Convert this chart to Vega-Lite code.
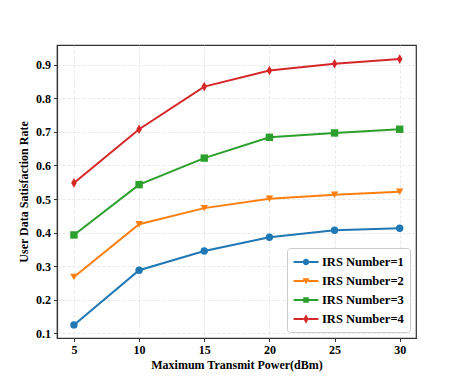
{
  "$schema": "https://vega.github.io/schema/vega-lite/v6.json",
  "width": 359,
  "height": 293,
  "autosize": "none",
  "padding": {"left": 57, "top": 45, "right": 47, "bottom": 42},
  "background": "white",
  "config": {
    "font": "Liberation Serif",
    "view": {"stroke": "#333", "strokeWidth": 1.2},
    "axis": {
      "labelFont": "Liberation Serif", "labelFontSize": 12, "labelFontWeight": "bold", "labelColor": "black",
      "titleFont": "Liberation Serif", "titleFontSize": 12, "titleFontWeight": "bold", "titleColor": "black",
      "domainColor": "#333", "domainWidth": 1.2, "tickColor": "#333", "tickSize": 3.5, "tickWidth": 1,
      "gridColor": "#e0e0e0", "gridDash": [3, 2], "gridWidth": 0.7, "labelPadding": 3
    },
    "legend": {
      "labelFont": "Liberation Serif", "labelFontSize": 12.5, "labelFontWeight": "bold", "labelColor": "black"
    }
  },
  "data": {
    "values": [
      {"p": 5, "v": 0.125, "s": "IRS Number=1"},
      {"p": 10, "v": 0.288, "s": "IRS Number=1"},
      {"p": 15, "v": 0.345, "s": "IRS Number=1"},
      {"p": 20, "v": 0.386, "s": "IRS Number=1"},
      {"p": 25, "v": 0.407, "s": "IRS Number=1"},
      {"p": 30, "v": 0.413, "s": "IRS Number=1"},
      {"p": 5, "v": 0.268, "s": "IRS Number=2"},
      {"p": 10, "v": 0.425, "s": "IRS Number=2"},
      {"p": 15, "v": 0.473, "s": "IRS Number=2"},
      {"p": 20, "v": 0.501, "s": "IRS Number=2"},
      {"p": 25, "v": 0.513, "s": "IRS Number=2"},
      {"p": 30, "v": 0.522, "s": "IRS Number=2"},
      {"p": 5, "v": 0.393, "s": "IRS Number=3"},
      {"p": 10, "v": 0.543, "s": "IRS Number=3"},
      {"p": 15, "v": 0.622, "s": "IRS Number=3"},
      {"p": 20, "v": 0.684, "s": "IRS Number=3"},
      {"p": 25, "v": 0.697, "s": "IRS Number=3"},
      {"p": 30, "v": 0.708, "s": "IRS Number=3"},
      {"p": 5, "v": 0.548, "s": "IRS Number=4"},
      {"p": 10, "v": 0.708, "s": "IRS Number=4"},
      {"p": 15, "v": 0.835, "s": "IRS Number=4"},
      {"p": 20, "v": 0.883, "s": "IRS Number=4"},
      {"p": 25, "v": 0.903, "s": "IRS Number=4"},
      {"p": 30, "v": 0.917, "s": "IRS Number=4"}
    ]
  },
  "encoding": {
    "x": {
      "field": "p", "type": "quantitative",
      "scale": {"domain": [3.7, 31.25], "nice": false, "zero": false},
      "axis": {"values": [5, 10, 15, 20, 25, 30], "title": "Maximum Transmit Power(dBm)", "titlePadding": 4}
    },
    "y": {
      "field": "v", "type": "quantitative",
      "scale": {"domain": [0.086, 0.959], "nice": false, "zero": false},
      "axis": {"values": [0.1, 0.2, 0.3, 0.4, 0.5, 0.6, 0.7, 0.8, 0.9], "format": ".1f", "title": "User Data Satisfaction Rate", "titlePadding": 5}
    }
  },
  "layer": [
    {
      "mark": {"type": "line", "strokeWidth": 2},
      "encoding": {
        "color": {
          "field": "s", "type": "nominal",
          "scale": {"domain": ["IRS Number=1", "IRS Number=2", "IRS Number=3", "IRS Number=4"], "range": ["#1f77b4", "#ff7f0e", "#2ca02c", "#d62728"]},
          "legend": null
        }
      }
    },
    {
      "mark": {"type": "point", "filled": true, "opacity": 1, "size": 55},
      "encoding": {
        "color": {
          "field": "s", "type": "nominal",
          "scale": {"domain": ["IRS Number=1", "IRS Number=2", "IRS Number=3", "IRS Number=4"], "range": ["#1f77b4", "#ff7f0e", "#2ca02c", "#d62728"]},
          "legend": null
        },
        "shape": {
          "field": "s", "type": "nominal",
          "scale": {"domain": ["IRS Number=1", "IRS Number=2", "IRS Number=3", "IRS Number=4"], "range": ["circle", "triangle-down", "square", "M0,-1.3L0.75,0L0,1.3L-0.75,0Z"]},
          "legend": null
        }
      }
    },
    {
      "mark": {"type": "point", "filled": true, "opacity": 0, "size": 1},
      "encoding": {
        "color": {
          "field": "s", "type": "nominal",
          "scale": {"domain": ["IRS Number=1", "IRS Number=2", "IRS Number=3", "IRS Number=4"], "range": ["#1f77b4", "#ff7f0e", "#2ca02c", "#d62728"]},
          "legend": {
            "title": null, "orient": "bottom-right", "offset": 6,
            "fillColor": "white", "strokeColor": "#cccccc", "cornerRadius": 3, "padding": 6,
            "symbolSize": 256, "symbolOpacity": 1, "symbolStrokeWidth": 0,
            "symbolOffset": 5, "labelOffset": 8, "rowPadding": 4
          }
        },
        "shape": {
          "field": "s", "type": "nominal",
          "scale": {"domain": ["IRS Number=1", "IRS Number=2", "IRS Number=3", "IRS Number=4"], "range": [
            "M-1.55,-0.12H-0.38V0.12H-1.55Z M0.38,-0.12H1.55V0.12H0.38Z M-0.4,0A0.4,0.4 0 1,0 0.4,0A0.4,0.4 0 1,0 -0.4,0Z",
            "M-1.55,-0.12H-0.25V0.12H-1.55Z M0.25,-0.12H1.55V0.12H0.25Z M-0.44,-0.34L0.44,-0.34L0,0.42Z",
            "M-1.55,-0.12H-0.35V0.12H-1.55Z M0.35,-0.12H1.55V0.12H0.35Z M-0.35,-0.35H0.35V0.35H-0.35Z",
            "M-1.55,-0.12H-0.3V0.12H-1.55Z M0.3,-0.12H1.55V0.12H0.3Z M0,-0.58L0.32,0L0,0.58L-0.32,0Z"
          ]},
          "legend": {
            "title": null, "orient": "bottom-right", "offset": 6,
            "fillColor": "white", "strokeColor": "#cccccc", "cornerRadius": 3, "padding": 6,
            "symbolSize": 256, "symbolOpacity": 1, "symbolStrokeWidth": 0,
            "symbolOffset": 5, "labelOffset": 8, "rowPadding": 4
          }
        }
      }
    }
  ],
  "resolve": {"scale": {"shape": "independent", "color": "independent"}}
}
